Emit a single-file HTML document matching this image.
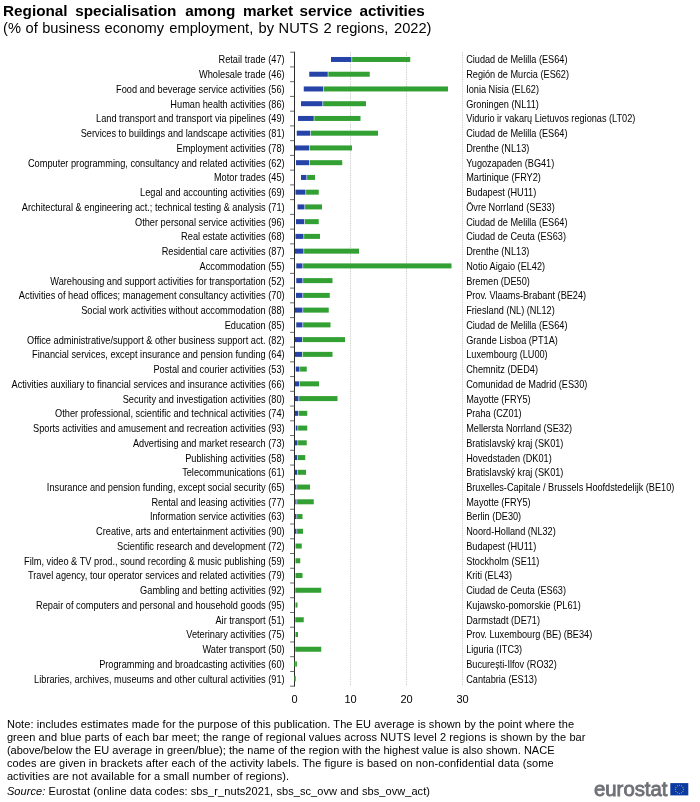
<!DOCTYPE html>
<html lang="en"><head><meta charset="utf-8"><title>Regional specialisation among market service activities</title>
<style>
html,body{margin:0;padding:0;background:#fff;}
svg{display:block;font-family:"Liberation Sans",Arial,sans-serif;fill:#000;}
.lab{font-size:10px;}
.note{font-size:11px;}
</style></head><body>
<svg width="700" height="802" viewBox="0 0 700 802">
<rect width="700" height="802" fill="#fff"/>
<text y="15.5" font-size="15.3" font-weight="bold"><tspan x="3.0">Regional </tspan><tspan x="75.2">specialisation </tspan><tspan x="185.2">among </tspan><tspan x="243.0">market </tspan><tspan x="299.6">service </tspan><tspan x="359.4">activities </tspan></text>
<text y="32.6" font-size="14.67"><tspan x="3.1">(% </tspan><tspan x="25.6">of </tspan><tspan x="42.2">business </tspan><tspan x="104.6">economy </tspan><tspan x="169.3">employment, </tspan><tspan x="258.5">by </tspan><tspan x="278.6">NUTS </tspan><tspan x="323.6">2 </tspan><tspan x="336.2">regions, </tspan><tspan x="394.0">2022) </tspan></text>
<line x1="350.5" y1="52.2" x2="350.5" y2="686.2" stroke="#a0a0a0" stroke-width="0.5" stroke-dasharray="1.4 1"/>
<line x1="406.5" y1="52.2" x2="406.5" y2="686.2" stroke="#a0a0a0" stroke-width="0.5" stroke-dasharray="1.4 1"/>
<line x1="462.5" y1="52.2" x2="462.5" y2="686.2" stroke="#a0a0a0" stroke-width="0.5" stroke-dasharray="1.4 1"/>
<rect x="331.00" y="56.97" width="20.50" height="5" fill="#2644A7"/><rect x="352.10" y="56.97" width="58.15" height="5" fill="#33A033"/>
<rect x="309.25" y="71.72" width="18.50" height="5" fill="#2644A7"/><rect x="328.35" y="71.72" width="41.40" height="5" fill="#33A033"/>
<rect x="303.75" y="86.46" width="19.50" height="5" fill="#2644A7"/><rect x="323.85" y="86.46" width="124.15" height="5" fill="#33A033"/>
<rect x="301.00" y="101.20" width="21.50" height="5" fill="#2644A7"/><rect x="323.10" y="101.20" width="42.90" height="5" fill="#33A033"/>
<rect x="298.00" y="115.95" width="15.75" height="5" fill="#2644A7"/><rect x="314.35" y="115.95" width="46.15" height="5" fill="#33A033"/>
<rect x="296.75" y="130.69" width="13.50" height="5" fill="#2644A7"/><rect x="310.85" y="130.69" width="67.15" height="5" fill="#33A033"/>
<rect x="294.75" y="145.44" width="14.50" height="5" fill="#2644A7"/><rect x="309.85" y="145.44" width="42.15" height="5" fill="#33A033"/>
<rect x="296.00" y="160.18" width="13.00" height="5" fill="#2644A7"/><rect x="309.60" y="160.18" width="32.65" height="5" fill="#33A033"/>
<rect x="301.00" y="174.93" width="5.50" height="5" fill="#2644A7"/><rect x="307.10" y="174.93" width="7.90" height="5" fill="#33A033"/>
<rect x="295.50" y="189.67" width="10.00" height="5" fill="#2644A7"/><rect x="306.10" y="189.67" width="12.65" height="5" fill="#33A033"/>
<rect x="297.50" y="204.41" width="7.00" height="5" fill="#2644A7"/><rect x="305.10" y="204.41" width="16.90" height="5" fill="#33A033"/>
<rect x="296.00" y="219.16" width="8.25" height="5" fill="#2644A7"/><rect x="304.85" y="219.16" width="13.90" height="5" fill="#33A033"/>
<rect x="295.50" y="233.90" width="8.00" height="5" fill="#2644A7"/><rect x="304.10" y="233.90" width="15.90" height="5" fill="#33A033"/>
<rect x="294.75" y="248.65" width="8.75" height="5" fill="#2644A7"/><rect x="304.10" y="248.65" width="54.90" height="5" fill="#33A033"/>
<rect x="296.25" y="263.39" width="6.25" height="5" fill="#2644A7"/><rect x="303.10" y="263.39" width="148.40" height="5" fill="#33A033"/>
<rect x="296.25" y="278.13" width="6.25" height="5" fill="#2644A7"/><rect x="303.10" y="278.13" width="29.40" height="5" fill="#33A033"/>
<rect x="296.00" y="292.88" width="6.50" height="5" fill="#2644A7"/><rect x="303.10" y="292.88" width="26.65" height="5" fill="#33A033"/>
<rect x="294.75" y="307.62" width="7.75" height="5" fill="#2644A7"/><rect x="303.10" y="307.62" width="25.65" height="5" fill="#33A033"/>
<rect x="296.25" y="322.37" width="6.25" height="5" fill="#2644A7"/><rect x="303.10" y="322.37" width="27.40" height="5" fill="#33A033"/>
<rect x="294.75" y="337.11" width="7.25" height="5" fill="#2644A7"/><rect x="302.60" y="337.11" width="42.40" height="5" fill="#33A033"/>
<rect x="294.75" y="351.86" width="7.25" height="5" fill="#2644A7"/><rect x="302.60" y="351.86" width="29.90" height="5" fill="#33A033"/>
<rect x="295.75" y="366.60" width="3.75" height="5" fill="#2644A7"/><rect x="300.10" y="366.60" width="6.65" height="5" fill="#33A033"/>
<rect x="294.75" y="381.34" width="4.50" height="5" fill="#2644A7"/><rect x="299.85" y="381.34" width="19.15" height="5" fill="#33A033"/>
<rect x="294.75" y="396.09" width="3.75" height="5" fill="#2644A7"/><rect x="299.10" y="396.09" width="38.40" height="5" fill="#33A033"/>
<rect x="294.75" y="410.83" width="3.50" height="5" fill="#2644A7"/><rect x="298.85" y="410.83" width="8.40" height="5" fill="#33A033"/>
<rect x="295.75" y="425.58" width="1.75" height="5" fill="#2644A7"/><rect x="298.10" y="425.58" width="9.15" height="5" fill="#33A033"/>
<rect x="294.75" y="440.32" width="2.75" height="5" fill="#2644A7"/><rect x="298.10" y="440.32" width="8.65" height="5" fill="#33A033"/>
<rect x="294.75" y="455.07" width="2.50" height="5" fill="#2644A7"/><rect x="297.85" y="455.07" width="7.40" height="5" fill="#33A033"/>
<rect x="294.75" y="469.81" width="2.50" height="5" fill="#2644A7"/><rect x="297.85" y="469.81" width="8.15" height="5" fill="#33A033"/>
<rect x="294.75" y="484.55" width="1.75" height="5" fill="#2644A7"/><rect x="297.10" y="484.55" width="12.90" height="5" fill="#33A033"/>
<rect x="295.25" y="499.30" width="1.25" height="5" fill="#2644A7"/><rect x="297.10" y="499.30" width="16.65" height="5" fill="#33A033"/>
<rect x="294.75" y="514.04" width="1.75" height="5" fill="#2644A7"/><rect x="297.10" y="514.04" width="5.40" height="5" fill="#33A033"/>
<rect x="294.75" y="528.79" width="1.75" height="5" fill="#2644A7"/><rect x="297.10" y="528.79" width="5.90" height="5" fill="#33A033"/>
<rect x="294.90" y="543.53" width="0.40" height="5" fill="#2644A7"/><rect x="295.90" y="543.53" width="5.85" height="5" fill="#33A033"/>
<rect x="294.90" y="558.27" width="0.40" height="5" fill="#2644A7"/><rect x="295.90" y="558.27" width="4.35" height="5" fill="#33A033"/>
<rect x="294.90" y="573.02" width="0.40" height="5" fill="#2644A7"/><rect x="295.90" y="573.02" width="6.60" height="5" fill="#33A033"/>
<rect x="295.30" y="587.76" width="25.95" height="5" fill="#33A033"/>
<rect x="295.50" y="602.51" width="2.00" height="5" fill="#33A033"/>
<rect x="295.30" y="617.25" width="8.45" height="5" fill="#33A033"/>
<rect x="295.50" y="632.00" width="2.50" height="5" fill="#33A033"/>
<rect x="295.30" y="646.74" width="25.95" height="5" fill="#33A033"/>
<rect x="295.60" y="661.48" width="1.15" height="5" fill="#33A033"/>
<rect x="295.35" y="676.23" width="0.50" height="5" fill="#33A033"/>
<line x1="294.5" y1="51.800000000000004" x2="294.5" y2="686.6" stroke="#2b2b2b" stroke-width="1.0"/>
<line x1="290.1" y1="52.20" x2="294.5" y2="52.20" stroke="#404040" stroke-width="0.8"/><line x1="290.1" y1="66.94" x2="294.5" y2="66.94" stroke="#404040" stroke-width="0.8"/><line x1="290.1" y1="81.69" x2="294.5" y2="81.69" stroke="#404040" stroke-width="0.8"/><line x1="290.1" y1="96.43" x2="294.5" y2="96.43" stroke="#404040" stroke-width="0.8"/><line x1="290.1" y1="111.18" x2="294.5" y2="111.18" stroke="#404040" stroke-width="0.8"/><line x1="290.1" y1="125.92" x2="294.5" y2="125.92" stroke="#404040" stroke-width="0.8"/><line x1="290.1" y1="140.67" x2="294.5" y2="140.67" stroke="#404040" stroke-width="0.8"/><line x1="290.1" y1="155.41" x2="294.5" y2="155.41" stroke="#404040" stroke-width="0.8"/><line x1="290.1" y1="170.15" x2="294.5" y2="170.15" stroke="#404040" stroke-width="0.8"/><line x1="290.1" y1="184.90" x2="294.5" y2="184.90" stroke="#404040" stroke-width="0.8"/><line x1="290.1" y1="199.64" x2="294.5" y2="199.64" stroke="#404040" stroke-width="0.8"/><line x1="290.1" y1="214.39" x2="294.5" y2="214.39" stroke="#404040" stroke-width="0.8"/><line x1="290.1" y1="229.13" x2="294.5" y2="229.13" stroke="#404040" stroke-width="0.8"/><line x1="290.1" y1="243.87" x2="294.5" y2="243.87" stroke="#404040" stroke-width="0.8"/><line x1="290.1" y1="258.62" x2="294.5" y2="258.62" stroke="#404040" stroke-width="0.8"/><line x1="290.1" y1="273.36" x2="294.5" y2="273.36" stroke="#404040" stroke-width="0.8"/><line x1="290.1" y1="288.11" x2="294.5" y2="288.11" stroke="#404040" stroke-width="0.8"/><line x1="290.1" y1="302.85" x2="294.5" y2="302.85" stroke="#404040" stroke-width="0.8"/><line x1="290.1" y1="317.60" x2="294.5" y2="317.60" stroke="#404040" stroke-width="0.8"/><line x1="290.1" y1="332.34" x2="294.5" y2="332.34" stroke="#404040" stroke-width="0.8"/><line x1="290.1" y1="347.08" x2="294.5" y2="347.08" stroke="#404040" stroke-width="0.8"/><line x1="290.1" y1="361.83" x2="294.5" y2="361.83" stroke="#404040" stroke-width="0.8"/><line x1="290.1" y1="376.57" x2="294.5" y2="376.57" stroke="#404040" stroke-width="0.8"/><line x1="290.1" y1="391.32" x2="294.5" y2="391.32" stroke="#404040" stroke-width="0.8"/><line x1="290.1" y1="406.06" x2="294.5" y2="406.06" stroke="#404040" stroke-width="0.8"/><line x1="290.1" y1="420.80" x2="294.5" y2="420.80" stroke="#404040" stroke-width="0.8"/><line x1="290.1" y1="435.55" x2="294.5" y2="435.55" stroke="#404040" stroke-width="0.8"/><line x1="290.1" y1="450.29" x2="294.5" y2="450.29" stroke="#404040" stroke-width="0.8"/><line x1="290.1" y1="465.04" x2="294.5" y2="465.04" stroke="#404040" stroke-width="0.8"/><line x1="290.1" y1="479.78" x2="294.5" y2="479.78" stroke="#404040" stroke-width="0.8"/><line x1="290.1" y1="494.53" x2="294.5" y2="494.53" stroke="#404040" stroke-width="0.8"/><line x1="290.1" y1="509.27" x2="294.5" y2="509.27" stroke="#404040" stroke-width="0.8"/><line x1="290.1" y1="524.01" x2="294.5" y2="524.01" stroke="#404040" stroke-width="0.8"/><line x1="290.1" y1="538.76" x2="294.5" y2="538.76" stroke="#404040" stroke-width="0.8"/><line x1="290.1" y1="553.50" x2="294.5" y2="553.50" stroke="#404040" stroke-width="0.8"/><line x1="290.1" y1="568.25" x2="294.5" y2="568.25" stroke="#404040" stroke-width="0.8"/><line x1="290.1" y1="582.99" x2="294.5" y2="582.99" stroke="#404040" stroke-width="0.8"/><line x1="290.1" y1="597.73" x2="294.5" y2="597.73" stroke="#404040" stroke-width="0.8"/><line x1="290.1" y1="612.48" x2="294.5" y2="612.48" stroke="#404040" stroke-width="0.8"/><line x1="290.1" y1="627.22" x2="294.5" y2="627.22" stroke="#404040" stroke-width="0.8"/><line x1="290.1" y1="641.97" x2="294.5" y2="641.97" stroke="#404040" stroke-width="0.8"/><line x1="290.1" y1="656.71" x2="294.5" y2="656.71" stroke="#404040" stroke-width="0.8"/><line x1="290.1" y1="671.46" x2="294.5" y2="671.46" stroke="#404040" stroke-width="0.8"/><line x1="290.1" y1="686.20" x2="294.5" y2="686.20" stroke="#404040" stroke-width="0.8"/>
<rect x="294.0" y="661.48" width="2.90" height="5" fill="#33A033" opacity="0.7"/><rect x="294.0" y="676.23" width="1.80" height="5" fill="#33A033" opacity="0.7"/>
<text class="lab" transform="translate(284.6 63.42) scale(0.923 1)" text-anchor="end">Retail trade (47)</text><text class="lab" transform="translate(466.2 63.42) scale(0.917 1)">Ciudad de Melilla (ES64)</text>
<text class="lab" transform="translate(284.6 78.17) scale(0.923 1)" text-anchor="end">Wholesale trade (46)</text><text class="lab" transform="translate(466.2 78.17) scale(0.917 1)">Región de Murcia (ES62)</text>
<text class="lab" transform="translate(284.6 92.91) scale(0.923 1)" text-anchor="end">Food and beverage service activities (56)</text><text class="lab" transform="translate(466.2 92.91) scale(0.917 1)">Ionia Nisia (EL62)</text>
<text class="lab" transform="translate(284.6 107.65) scale(0.923 1)" text-anchor="end">Human health activities (86)</text><text class="lab" transform="translate(466.2 107.65) scale(0.917 1)">Groningen (NL11)</text>
<text class="lab" transform="translate(284.6 122.40) scale(0.923 1)" text-anchor="end">Land transport and transport via pipelines (49)</text><text class="lab" transform="translate(466.2 122.40) scale(0.917 1)">Vidurio ir vakarų Lietuvos regionas (LT02)</text>
<text class="lab" transform="translate(284.6 137.14) scale(0.923 1)" text-anchor="end">Services to buildings and landscape activities (81)</text><text class="lab" transform="translate(466.2 137.14) scale(0.917 1)">Ciudad de Melilla (ES64)</text>
<text class="lab" transform="translate(284.6 151.89) scale(0.923 1)" text-anchor="end">Employment activities (78)</text><text class="lab" transform="translate(466.2 151.89) scale(0.917 1)">Drenthe (NL13)</text>
<text class="lab" transform="translate(284.6 166.63) scale(0.923 1)" text-anchor="end">Computer programming, consultancy and related activities (62)</text><text class="lab" transform="translate(466.2 166.63) scale(0.917 1)">Yugozapaden (BG41)</text>
<text class="lab" transform="translate(284.6 181.38) scale(0.923 1)" text-anchor="end">Motor trades (45)</text><text class="lab" transform="translate(466.2 181.38) scale(0.917 1)">Martinique (FRY2)</text>
<text class="lab" transform="translate(284.6 196.12) scale(0.923 1)" text-anchor="end">Legal and accounting activities (69)</text><text class="lab" transform="translate(466.2 196.12) scale(0.917 1)">Budapest (HU11)</text>
<text class="lab" transform="translate(284.6 210.86) scale(0.923 1)" text-anchor="end">Architectural &amp; engineering act.; technical testing &amp; analysis (71)</text><text class="lab" transform="translate(466.2 210.86) scale(0.917 1)">Övre Norrland (SE33)</text>
<text class="lab" transform="translate(284.6 225.61) scale(0.923 1)" text-anchor="end">Other personal service activities (96)</text><text class="lab" transform="translate(466.2 225.61) scale(0.917 1)">Ciudad de Melilla (ES64)</text>
<text class="lab" transform="translate(284.6 240.35) scale(0.923 1)" text-anchor="end">Real estate activities (68)</text><text class="lab" transform="translate(466.2 240.35) scale(0.917 1)">Ciudad de Ceuta (ES63)</text>
<text class="lab" transform="translate(284.6 255.10) scale(0.923 1)" text-anchor="end">Residential care activities (87)</text><text class="lab" transform="translate(466.2 255.10) scale(0.917 1)">Drenthe (NL13)</text>
<text class="lab" transform="translate(284.6 269.84) scale(0.923 1)" text-anchor="end">Accommodation (55)</text><text class="lab" transform="translate(466.2 269.84) scale(0.917 1)">Notio Aigaio (EL42)</text>
<text class="lab" transform="translate(284.6 284.58) scale(0.923 1)" text-anchor="end">Warehousing and support activities for transportation (52)</text><text class="lab" transform="translate(466.2 284.58) scale(0.917 1)">Bremen (DE50)</text>
<text class="lab" transform="translate(284.6 299.33) scale(0.923 1)" text-anchor="end">Activities of head offices; management consultancy activities (70)</text><text class="lab" transform="translate(466.2 299.33) scale(0.917 1)">Prov. Vlaams-Brabant (BE24)</text>
<text class="lab" transform="translate(284.6 314.07) scale(0.923 1)" text-anchor="end">Social work activities without accommodation (88)</text><text class="lab" transform="translate(466.2 314.07) scale(0.917 1)">Friesland (NL) (NL12)</text>
<text class="lab" transform="translate(284.6 328.82) scale(0.923 1)" text-anchor="end">Education (85)</text><text class="lab" transform="translate(466.2 328.82) scale(0.917 1)">Ciudad de Melilla (ES64)</text>
<text class="lab" transform="translate(284.6 343.56) scale(0.923 1)" text-anchor="end">Office administrative/support &amp; other business support act. (82)</text><text class="lab" transform="translate(466.2 343.56) scale(0.917 1)">Grande Lisboa (PT1A)</text>
<text class="lab" transform="translate(284.6 358.31) scale(0.923 1)" text-anchor="end">Financial services, except insurance and pension funding (64)</text><text class="lab" transform="translate(466.2 358.31) scale(0.917 1)">Luxembourg (LU00)</text>
<text class="lab" transform="translate(284.6 373.05) scale(0.923 1)" text-anchor="end">Postal and courier activities (53)</text><text class="lab" transform="translate(466.2 373.05) scale(0.917 1)">Chemnitz (DED4)</text>
<text class="lab" transform="translate(284.6 387.79) scale(0.923 1)" text-anchor="end">Activities auxiliary to financial services and insurance activities (66)</text><text class="lab" transform="translate(466.2 387.79) scale(0.917 1)">Comunidad de Madrid (ES30)</text>
<text class="lab" transform="translate(284.6 402.54) scale(0.923 1)" text-anchor="end">Security and investigation activities (80)</text><text class="lab" transform="translate(466.2 402.54) scale(0.917 1)">Mayotte (FRY5)</text>
<text class="lab" transform="translate(284.6 417.28) scale(0.923 1)" text-anchor="end">Other professional, scientific and technical activities (74)</text><text class="lab" transform="translate(466.2 417.28) scale(0.917 1)">Praha (CZ01)</text>
<text class="lab" transform="translate(284.6 432.03) scale(0.923 1)" text-anchor="end">Sports activities and amusement and recreation activities (93)</text><text class="lab" transform="translate(466.2 432.03) scale(0.917 1)">Mellersta Norrland (SE32)</text>
<text class="lab" transform="translate(284.6 446.77) scale(0.923 1)" text-anchor="end">Advertising and market research (73)</text><text class="lab" transform="translate(466.2 446.77) scale(0.917 1)">Bratislavský kraj (SK01)</text>
<text class="lab" transform="translate(284.6 461.52) scale(0.923 1)" text-anchor="end">Publishing activities (58)</text><text class="lab" transform="translate(466.2 461.52) scale(0.917 1)">Hovedstaden (DK01)</text>
<text class="lab" transform="translate(284.6 476.26) scale(0.923 1)" text-anchor="end">Telecommunications (61)</text><text class="lab" transform="translate(466.2 476.26) scale(0.917 1)">Bratislavský kraj (SK01)</text>
<text class="lab" transform="translate(284.6 491.00) scale(0.923 1)" text-anchor="end">Insurance and pension funding, except social security (65)</text><text class="lab" transform="translate(466.2 491.00) scale(0.917 1)">Bruxelles-Capitale / Brussels Hoofdstedelijk (BE10)</text>
<text class="lab" transform="translate(284.6 505.75) scale(0.923 1)" text-anchor="end">Rental and leasing activities (77)</text><text class="lab" transform="translate(466.2 505.75) scale(0.917 1)">Mayotte (FRY5)</text>
<text class="lab" transform="translate(284.6 520.49) scale(0.923 1)" text-anchor="end">Information service activities (63)</text><text class="lab" transform="translate(466.2 520.49) scale(0.917 1)">Berlin (DE30)</text>
<text class="lab" transform="translate(284.6 535.24) scale(0.923 1)" text-anchor="end">Creative, arts and entertainment activities (90)</text><text class="lab" transform="translate(466.2 535.24) scale(0.917 1)">Noord-Holland (NL32)</text>
<text class="lab" transform="translate(284.6 549.98) scale(0.923 1)" text-anchor="end">Scientific research and development (72)</text><text class="lab" transform="translate(466.2 549.98) scale(0.917 1)">Budapest (HU11)</text>
<text class="lab" transform="translate(284.6 564.72) scale(0.923 1)" text-anchor="end">Film, video &amp; TV prod., sound recording &amp; music publishing (59)</text><text class="lab" transform="translate(466.2 564.72) scale(0.917 1)">Stockholm (SE11)</text>
<text class="lab" transform="translate(284.6 579.47) scale(0.923 1)" text-anchor="end">Travel agency, tour operator services and related activities (79)</text><text class="lab" transform="translate(466.2 579.47) scale(0.917 1)">Kriti (EL43)</text>
<text class="lab" transform="translate(284.6 594.21) scale(0.923 1)" text-anchor="end">Gambling and betting activities (92)</text><text class="lab" transform="translate(466.2 594.21) scale(0.917 1)">Ciudad de Ceuta (ES63)</text>
<text class="lab" transform="translate(284.6 608.96) scale(0.923 1)" text-anchor="end">Repair of computers and personal and household goods (95)</text><text class="lab" transform="translate(466.2 608.96) scale(0.917 1)">Kujawsko-pomorskie (PL61)</text>
<text class="lab" transform="translate(284.6 623.70) scale(0.923 1)" text-anchor="end">Air transport (51)</text><text class="lab" transform="translate(466.2 623.70) scale(0.917 1)">Darmstadt (DE71)</text>
<text class="lab" transform="translate(284.6 638.45) scale(0.923 1)" text-anchor="end">Veterinary activities (75)</text><text class="lab" transform="translate(466.2 638.45) scale(0.917 1)">Prov. Luxembourg (BE) (BE34)</text>
<text class="lab" transform="translate(284.6 653.19) scale(0.923 1)" text-anchor="end">Water transport (50)</text><text class="lab" transform="translate(466.2 653.19) scale(0.917 1)">Liguria (ITC3)</text>
<text class="lab" transform="translate(284.6 667.93) scale(0.923 1)" text-anchor="end">Programming and broadcasting activities (60)</text><text class="lab" transform="translate(466.2 667.93) scale(0.917 1)">București-Ilfov (RO32)</text>
<text class="lab" transform="translate(284.6 682.68) scale(0.923 1)" text-anchor="end">Libraries, archives, museums and other cultural activities (91)</text><text class="lab" transform="translate(466.2 682.68) scale(0.917 1)">Cantabria (ES13)</text>
<text x="294.5" y="702.7" font-size="11" text-anchor="middle">0</text><text x="350.5" y="702.7" font-size="11" text-anchor="middle">10</text><text x="406.5" y="702.7" font-size="11" text-anchor="middle">20</text><text x="462.5" y="702.7" font-size="11" text-anchor="middle">30</text>
<text class="note" x="6.9" y="727.6" textLength="567.1" lengthAdjust="spacing">Note: includes estimates made for the purpose of this publication. The EU average is shown by the point where the</text>
<text class="note" x="6.9" y="740.6" textLength="578.6" lengthAdjust="spacing">green and blue parts of each bar meet; the range of regional values across NUTS level 2 regions is shown by the bar</text>
<text class="note" x="6.9" y="753.6" textLength="547.6" lengthAdjust="spacing">(above/below the EU average in green/blue); the name of the region with the highest value is also shown. NACE</text>
<text class="note" x="6.9" y="766.6" textLength="546.6" lengthAdjust="spacing">codes are given in brackets after each of the activity labels. The figure is based on non-confidential data (some</text>
<text class="note" x="6.9" y="779.5" textLength="282.1" lengthAdjust="spacing">activities are not available for a small number of regions).</text>
<text class="note" x="6.9" y="794.6" textLength="423.1" lengthAdjust="spacing"><tspan font-style="italic">Source:</tspan> Eurostat (online data codes: sbs_r_nuts2021, sbs_sc_ovw and sbs_ovw_act)</text>
<text x="594" y="795.7" font-size="19.6" fill="#6f7078" stroke="#6f7078" stroke-width="0.85" textLength="73.5" lengthAdjust="spacingAndGlyphs">eurostat</text>
<rect x="670.3" y="783.1" width="18.0" height="12.3" fill="#0a3aa2"/>
<circle cx="679.40" cy="785.30" r="0.5" fill="#e6c62e"/><circle cx="681.42" cy="785.84" r="0.5" fill="#e6c62e"/><circle cx="682.91" cy="787.33" r="0.5" fill="#e6c62e"/><circle cx="683.45" cy="789.35" r="0.5" fill="#e6c62e"/><circle cx="682.91" cy="791.38" r="0.5" fill="#e6c62e"/><circle cx="681.42" cy="792.86" r="0.5" fill="#e6c62e"/><circle cx="679.40" cy="793.40" r="0.5" fill="#e6c62e"/><circle cx="677.38" cy="792.86" r="0.5" fill="#e6c62e"/><circle cx="675.89" cy="791.38" r="0.5" fill="#e6c62e"/><circle cx="675.35" cy="789.35" r="0.5" fill="#e6c62e"/><circle cx="675.89" cy="787.33" r="0.5" fill="#e6c62e"/><circle cx="677.38" cy="785.84" r="0.5" fill="#e6c62e"/>
</svg></body></html>
